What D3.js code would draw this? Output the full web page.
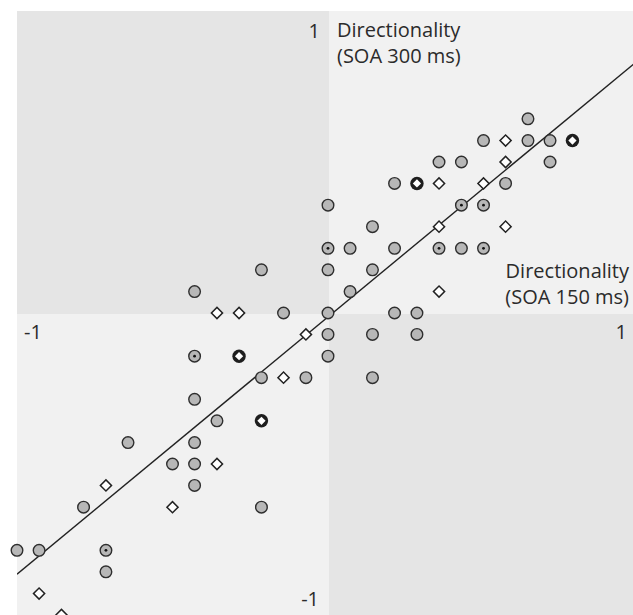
<!DOCTYPE html>
<html>
<head>
<meta charset="utf-8">
<script src="https://cdn.jsdelivr.net/npm/d3@7"></script>
<style>
  html, body { margin: 0; padding: 0; background: #fff; }
  svg { display: block; }
</style>
</head>
<body>
<div id="chart"></div>
<script>
// grey circles
const circleX = [0.643, 0.5, 0.643, 0.714, 0.357, 0.429, 0.714, 0.214, 0.571, 0,
    0.143, 0.071, 0.214, 0.429, -0.214, 0, 0.143, -0.429, 0.071, -0.143,
    0, 0.214, 0.286, 0, 0.143, 0.286, 0, -0.214, -0.071, 0.143,
    -0.429, -0.357, -0.643, -0.429, -0.5, -0.429, -0.429, -0.786, -0.214, -1,
    -0.929, -0.714];
const circleY = [0.643, 0.571, 0.571, 0.571, 0.5, 0.5, 0.5, 0.429, 0.429, 0.357,
    0.286, 0.214, 0.214, 0.214, 0.143, 0.143, 0.143, 0.071, 0.071, 0,
    0, 0, 0, -0.071, -0.071, -0.071, -0.143, -0.214, -0.214, -0.214,
    -0.286, -0.357, -0.429, -0.429, -0.5, -0.5, -0.571, -0.643, -0.643, -0.786,
    -0.786, -0.857];

// grey circles with a centre dot
const dotX = [0.429, 0.5, 0, 0.357, 0.5, -0.429, -0.714];
const dotY = [0.357, 0.357, 0.214, 0.214, 0.214, -0.143, -0.786];

// open diamonds
const diamondX = [0.571, 0.571, 0.357, 0.5, 0.357, 0.571, 0.357, -0.357, -0.286, -0.071,
    -0.143, -0.357, -0.714, -0.5, -0.929, -0.857];
const diamondY = [0.571, 0.5, 0.429, 0.429, 0.286, 0.286, 0.071, 0, 0, -0.071,
    -0.214, -0.5, -0.571, -0.643, -0.929, -1];

// heavy diamonds (ringed)
const boldX = [0.786, 0.286, -0.286, -0.214];
const boldY = [0.571, 0.429, -0.143, -0.357];

// regression line
const fitSlope = 0.852;
const fitIntercept = -0.013;
const fitRange = [-1, 1];

const width = 633, height = 615;

const svg = d3.select("#chart").append("svg")
    .attr("width", width)
    .attr("height", height);

const x = d3.scaleLinear().domain([-1, 1]).range([17, 639]);
const y = d3.scaleLinear().domain([-1, 1]).range([615, 11]);

// quadrant shading
const x0 = x(0) + 1, y0 = y(0) + 1;
const dark = "#e5e5e5", light = "#f1f1f1";
const quads = [
    [17, 11, x0 - 17, y0 - 11, dark],
    [x0, 11, width - x0, y0 - 11, light],
    [17, y0, x0 - 17, height - y0, light],
    [x0, y0, width - x0, height - y0, dark]
];
svg.selectAll("rect.quad").data(quads).enter().append("rect")
    .attr("class", "quad")
    .attr("x", d => d[0]).attr("y", d => d[1])
    .attr("width", d => d[2]).attr("height", d => d[3])
    .attr("fill", d => d[4]);

svg.append("clipPath").attr("id", "plot")
    .append("rect").attr("x", 17).attr("y", 11)
    .attr("width", width - 17).attr("height", height - 11);

// fit line
svg.append("path")
    .datum(fitRange.map(v => [v, fitSlope * v + fitIntercept]))
    .attr("clip-path", "url(#plot)")
    .attr("fill", "none")
    .attr("stroke", "#222")
    .attr("stroke-width", 1.4)
    .attr("d", d3.line().x(d => x(d[0])).y(d => y(d[1])));

const pts = (xs, ys) => xs.map((v, i) => [v, ys[i]]);
const marks = svg.append("g");

// circles
marks.selectAll("circle.c").data(pts(circleX, circleY).concat(pts(dotX, dotY)))
    .enter().append("circle")
    .attr("class", "c")
    .attr("cx", d => x(d[0])).attr("cy", d => y(d[1]))
    .attr("r", 5.8)
    .attr("fill", "#b7b7b7")
    .attr("stroke", "#2e2e2e")
    .attr("stroke-width", 1.4);

marks.selectAll("circle.dot").data(pts(dotX, dotY))
    .enter().append("circle")
    .attr("class", "dot")
    .attr("cx", d => x(d[0])).attr("cy", d => y(d[1]))
    .attr("r", 1.4)
    .attr("fill", "#111");

const diamond = d3.symbol().type(d3.symbolSquare).size(62);

marks.selectAll("path.d").data(pts(diamondX, diamondY))
    .enter().append("path")
    .attr("class", "d")
    .attr("d", diamond)
    .attr("transform", d => `translate(${x(d[0])},${y(d[1])}) rotate(45)`)
    .attr("fill", "#fff")
    .attr("stroke", "#222")
    .attr("stroke-width", 1.5);

// heavy diamonds: dark ring with a white diamond hole
const bold = marks.selectAll("g.b").data(pts(boldX, boldY))
    .enter().append("g")
    .attr("class", "b")
    .attr("transform", d => `translate(${x(d[0])},${y(d[1])})`);
bold.append("circle").attr("r", 6.7).attr("fill", "#1e1e1e");
bold.append("path")
    .attr("d", d3.symbol().type(d3.symbolSquare).size(34))
    .attr("transform", "rotate(45)")
    .attr("fill", "#fff");

// labels
const font = "'Open Sans', 'Noto Sans', sans-serif";
const txt = (t, tx, ty, anchor) => svg.append("text")
    .attr("x", tx).attr("y", ty)
    .attr("text-anchor", anchor)
    .attr("font-family", font)
    .attr("font-size", 20)
    .attr("fill", "#2b2b2b")
    .text(t);

txt("1", x(0) - 8, 38, "end");
txt("-1", x(0) - 9, 606, "end");
txt("-1", 24, 339, "start");
txt("1", 627, 339, "end");
txt("Directionality", x(0) + 9, 37, "start");
txt("(SOA 300 ms)", x(0) + 9, 63, "start");
txt("Directionality", 629, 278, "end");
txt("(SOA 150 ms)", 629, 304, "end");
</script>
</body>
</html>
